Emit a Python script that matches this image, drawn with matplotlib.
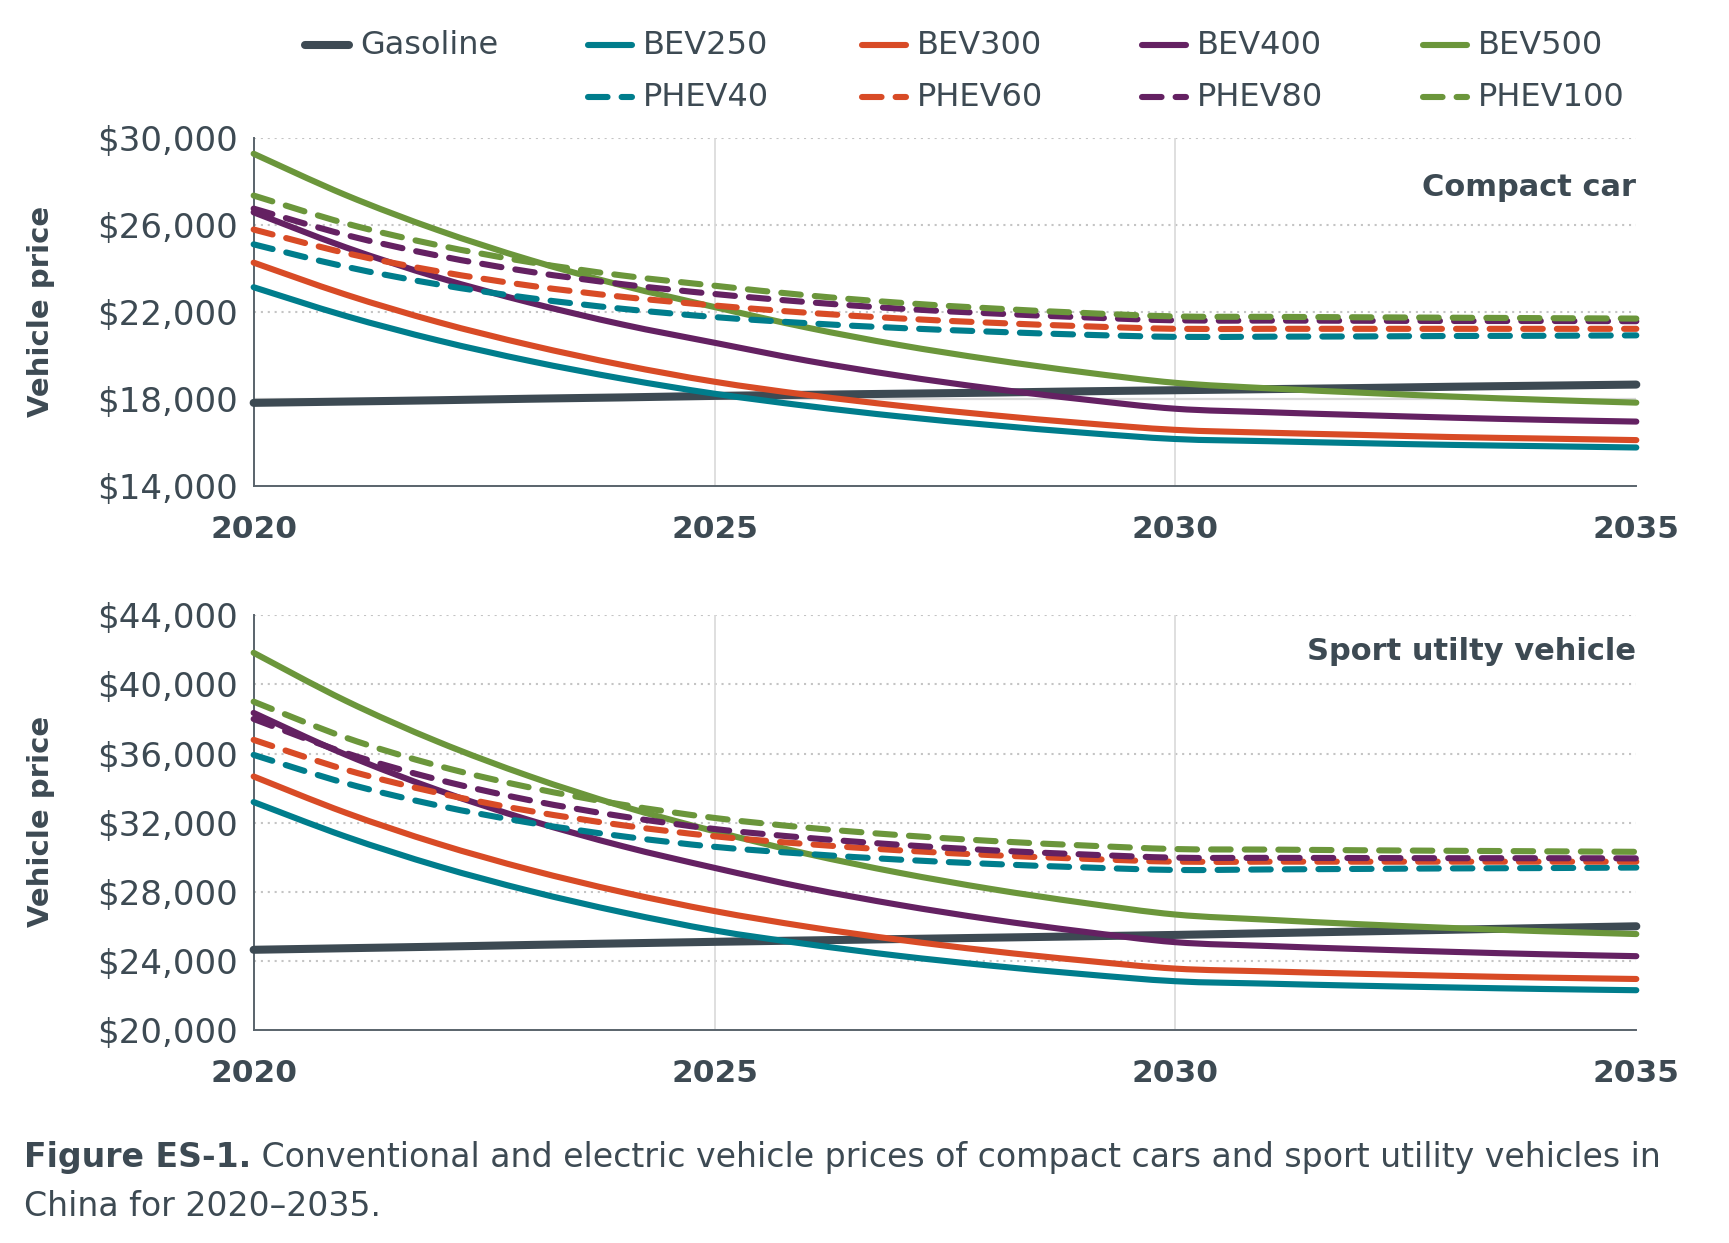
import matplotlib
matplotlib.use("Agg")
import matplotlib.pyplot as plt
from matplotlib.lines import Line2D
from matplotlib.path import Path
from matplotlib.patches import PathPatch

plt.rcParams['font.family'] = ['DejaVu Sans']

years = list(range(2020, 2036))

# compact car prices (USD)
compact_gasoline = [17830, 17890, 17950, 18020, 18080, 18150, 18200, 18250, 18300, 18360, 18410, 18460, 18510, 18570, 18620, 18670]
compact_bev250 = [23140, 21820, 20700, 19750, 18940, 18250, 17690, 17210, 16810, 16460, 16170, 16070, 15980, 15900, 15840, 15780]
compact_bev300 = [24270, 22800, 21540, 20480, 19570, 18800, 18200, 17700, 17270, 16900, 16590, 16460, 16360, 16260, 16190, 16120]
compact_bev400 = [26580, 24970, 23590, 22430, 21430, 20590, 19770, 19080, 18490, 17990, 17560, 17400, 17270, 17150, 17050, 16970]
compact_bev500 = [29270, 27370, 25760, 24390, 23220, 22230, 21290, 20490, 19820, 19240, 18750, 18500, 18300, 18120, 17970, 17840]
compact_phev40 = [25110, 24080, 23270, 22640, 22150, 21770, 21490, 21270, 21100, 20960, 20860, 20870, 20880, 20900, 20910, 20930]
compact_phev60 = [25790, 24710, 23870, 23210, 22700, 22300, 21970, 21710, 21510, 21350, 21230, 21230, 21230, 21230, 21230, 21230]
compact_phev80 = [26750, 25540, 24590, 23850, 23280, 22830, 22460, 22160, 21940, 21760, 21620, 21610, 21600, 21590, 21590, 21580]
compact_phev100 = [27350, 26070, 25070, 24290, 23680, 23210, 22770, 22430, 22170, 21960, 21800, 21780, 21760, 21740, 21720, 21700]

# sport utility vehicle prices (USD)
suv_gasoline = [24640, 24730, 24820, 24920, 25010, 25100, 25180, 25260, 25340, 25420, 25500, 25600, 25700, 25800, 25900, 26000]
suv_bev250 = [33190, 31190, 29480, 28040, 26810, 25760, 24970, 24290, 23720, 23230, 22820, 22680, 22560, 22460, 22370, 22300]
suv_bev300 = [34670, 32570, 30780, 29270, 27980, 26880, 25980, 25220, 24570, 24020, 23550, 23390, 23250, 23130, 23030, 22950]
suv_bev400 = [38350, 35930, 33880, 32130, 30640, 29380, 28220, 27240, 26400, 25690, 25080, 24860, 24680, 24520, 24380, 24270]
suv_bev500 = [41830, 39050, 36680, 34670, 32950, 31500, 30200, 29100, 28160, 27360, 26680, 26380, 26120, 25900, 25710, 25550]
suv_phev40 = [35920, 34280, 32990, 31990, 31210, 30600, 30190, 29860, 29610, 29410, 29260, 29290, 29320, 29350, 29370, 29400]
suv_phev60 = [36790, 35060, 33720, 32670, 31850, 31210, 30760, 30400, 30120, 29910, 29740, 29740, 29740, 29740, 29740, 29740]
suv_phev80 = [38000, 36030, 34490, 33290, 32360, 31630, 31120, 30720, 30400, 30160, 29970, 29960, 29950, 29940, 29940, 29930]
suv_phev100 = [39000, 36920, 35290, 34030, 33040, 32270, 31710, 31280, 30940, 30680, 30470, 30440, 30400, 30370, 30340, 30310]

labels = ["Gasoline", "BEV250", "BEV300", "BEV400", "BEV500", "PHEV40", "PHEV60", "PHEV80", "PHEV100"]
compact = [compact_gasoline, compact_bev250, compact_bev300, compact_bev400, compact_bev500,
           compact_phev40, compact_phev60, compact_phev80, compact_phev100]
suv = [suv_gasoline, suv_bev250, suv_bev300, suv_bev400, suv_bev500,
       suv_phev40, suv_phev60, suv_phev80, suv_phev100]

compact_yticks = [14000, 18000, 22000, 26000, 30000]
suv_yticks = [20000, 24000, 28000, 32000, 36000, 40000, 44000]
xticks = [2020, 2025, 2030, 2035]

TXT = '#3d4a53'
colors = {
    "Gasoline": '#3d4a53',
    "BEV250": '#007d8c', "PHEV40": '#007d8c',
    "BEV300": '#d84b26', "PHEV60": '#d84b26',
    "BEV400": '#642162', "PHEV80": '#642162',
    "BEV500": '#6b963b', "PHEV100": '#6b963b',
}
DASH = (0, (3.2, 2.3))


def style_for(name):
    if name == "Gasoline":
        return dict(lw=5.8, ls='-')
    if name.startswith("PHEV"):
        return dict(lw=4.4, ls=DASH)
    return dict(lw=4.4, ls='-')


def smooth_path(xs, ys):
    # smoothed line through the data points (like a spreadsheet "smooth line")
    n = len(xs)
    verts = [(xs[0], ys[0])]
    codes = [Path.MOVETO]
    for i in range(n - 1):
        a, b = max(i - 1, 0), min(i + 2, n - 1)
        c1 = (xs[i] + (xs[i + 1] - xs[a]) / 6, ys[i] + (ys[i + 1] - ys[a]) / 6)
        c2 = (xs[i + 1] - (xs[b] - xs[i]) / 6, ys[i + 1] - (ys[b] - ys[i]) / 6)
        verts += [c1, c2, (xs[i + 1], ys[i + 1])]
        codes += [Path.CURVE4] * 3
    return Path(verts, codes)


def draw_panel(ax, data, yticks, title, title_y, solid_grid=None):
    ax.set_xlim(2020, 2035)
    ax.set_ylim(yticks[0], yticks[-1])
    for v in yticks[1:]:
        if v == solid_grid:
            ax.axhline(v, color='#d9d9d9', lw=1.6, zorder=0)
        else:
            ax.axhline(v, color='#c4c4c4', lw=1.5, ls=(0, (1, 2.3)), zorder=0)
    for yr in [2025, 2030]:
        ax.axvline(yr, color='#d9d9d9', lw=1.2, zorder=0)

    for name, vals in zip(labels, data):
        st = style_for(name)
        patch = PathPatch(smooth_path(years, vals), fill=False, edgecolor=colors[name],
                          lw=st['lw'], ls=st['ls'], capstyle='round', joinstyle='round',
                          transform=ax.transData, clip_on=False, zorder=3)
        ax.add_patch(patch)

    ax.set_yticks(yticks)
    ax.set_yticklabels(['${:,}'.format(v) for v in yticks])
    ax.set_xticks(xticks)
    ax.set_xticklabels([str(x) for x in xticks])
    ax.tick_params(axis='y', length=0, pad=11, labelsize=24.5, labelcolor=TXT)
    ax.tick_params(axis='x', length=0, pad=21, labelsize=22.5, labelcolor=TXT)
    for lab in ax.get_xticklabels():
        lab.set_fontweight('bold')
    for s in ['top', 'right']:
        ax.spines[s].set_visible(False)
    for s in ['left', 'bottom']:
        ax.spines[s].set_color('#59636b')
        ax.spines[s].set_linewidth(1.4)
    ax.text(1.0, title_y, title, transform=ax.transAxes, ha='right', va='center',
            fontsize=22, fontweight='bold', color=TXT)


fig = plt.figure(figsize=(17.29, 12.43), dpi=100)
W, H = 1729, 1243
ax_top = fig.add_axes([0.1467, 0.6088, 0.7997, 0.2803])
ax_bot = fig.add_axes([0.1467, 0.1714, 0.7997, 0.3336])

draw_panel(ax_top, compact, compact_yticks, 'Compact car', 0.857, solid_grid=18000)
draw_panel(ax_bot, suv, suv_yticks, 'Sport utilty vehicle', 0.912)

for yc in [311, 821]:
    fig.text(41 / W, 1 - yc / H, 'Vehicle price', rotation=90, ha='center', va='center',
             fontsize=21, fontweight='bold', color=TXT)

# legend, laid out by hand in two rows
legend_cols = {"Gasoline": (305, 45), "BEV250": (588, 45), "BEV300": (862, 45),
               "BEV400": (1142, 45), "BEV500": (1423, 45),
               "PHEV40": (588, 97), "PHEV60": (862, 97), "PHEV80": (1142, 97), "PHEV100": (1423, 97)}
for name in labels:
    px, py = legend_cols[name]
    st = style_for(name)
    fig.add_artist(Line2D([px / W, (px + 44) / W], [1 - py / H, 1 - py / H],
                          transform=fig.transFigure, color=colors[name], lw=st['lw'], ls=st['ls'],
                          solid_capstyle='round', dash_capstyle='round'))
    fig.text((px + 55) / W, 1 - py / H, name, ha='left', va='center', fontsize=23, color=TXT)

# caption
t1 = fig.text(24 / W, 1 - 1158 / H, 'Figure ES-1.', ha='left', va='center',
              fontsize=23.9, fontweight='bold', color=TXT)
fig.canvas.draw()
bb = t1.get_window_extent(renderer=fig.canvas.get_renderer())
fig.text(bb.x1 / fig.bbox.width, 1 - 1158 / H,
         ' Conventional and electric vehicle prices of compact cars and sport utility vehicles in',
         ha='left', va='center', fontsize=23.9, color=TXT)
fig.text(24 / W, 1 - 1206 / H, 'China for 2020\u20132035.', ha='left', va='center',
         fontsize=23.9, color=TXT)

fig.savefig('out.png', dpi=100)
